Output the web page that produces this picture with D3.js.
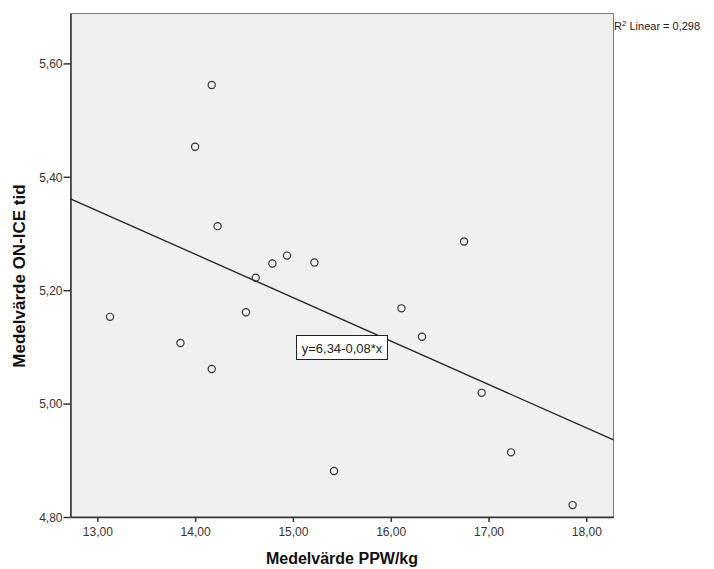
<!DOCTYPE html>
<html>
<head>
<meta charset="utf-8">
<script src="https://cdn.jsdelivr.net/npm/d3@7"></script>
<style>
  body { margin: 0; background: #fff; }
  text { font-family: "Liberation Sans", Arial, sans-serif; }
</style>
</head>
<body>
<div id="chart"></div>
<script>
// values
var ppw = [13.13, 13.85, 14.17, 14.23, 14.62, 14.52, 14.79, 14.94, 15.22,
           14.17, 14.00, 16.75, 16.11, 16.32, 16.93, 17.23, 17.86, 15.42];
var onIce = [5.153, 5.107, 5.061, 5.313, 5.222, 5.161, 5.247, 5.261, 5.249,
             5.562, 5.453, 5.286, 5.168, 5.118, 5.019, 4.914, 4.821, 4.881];
var xTicks = [13, 14, 15, 16, 17, 18];
var yTicks = [4.8, 5.0, 5.2, 5.4, 5.6];
var fitIntercept = 6.336, fitSlope = -0.0766;
var fitLabel = "y=6,34-0,08*x";
var r2Label = "0,298";

var W = 714, H = 569;
// plot edges (don't call it "top", that's window.top)
var padL = 70.5, padR = 613.5, padT = 13.5, padB = 517;

var fmt = function(v) { return d3.format(".2f")(v).replace(".", ","); };

var svg = d3.select("#chart").append("svg")
    .attr("width", W).attr("height", H);

var x = d3.scaleLinear().domain([12.726, 18.278]).range([padL, padR]);
var y = d3.scaleLinear().domain([4.80, 5.688]).range([padB, padT]);

// plot frame
svg.append("rect")
    .attr("x", padL).attr("y", padT)
    .attr("width", padR - padL).attr("height", padB - padT)
    .attr("fill", "#f0f0f0")
    .attr("stroke", "#7a7a7a").attr("stroke-width", 1);

// axes
var xAxis = d3.axisBottom(x).tickValues(xTicks).tickFormat(fmt).tickSize(5).tickSizeOuter(0);
var yAxis = d3.axisLeft(y).tickValues(yTicks).tickFormat(fmt).tickSize(7).tickSizeOuter(0);

var gx = svg.append("g").attr("transform", "translate(0," + padB + ")").call(xAxis);
var gy = svg.append("g").attr("transform", "translate(" + padL + ",0)").call(yAxis);

[gx, gy].forEach(function(g) {
    g.select(".domain").attr("stroke", "#333").attr("stroke-width", 1.5);
    g.selectAll(".tick line").attr("stroke", "#333").attr("stroke-width", 1.5);
    g.selectAll(".tick text").attr("fill", "#333").style("font-size", "12px")
        .style("font-family", "'Liberation Sans Narrow', 'Liberation Sans', Arial, sans-serif");
});
gx.selectAll(".tick text").attr("dy", "0.95em");
gy.selectAll(".tick text").attr("x", -8).attr("dy", "0.35em");

// regression line
var line = d3.line()
    .x(function(d) { return x(d); })
    .y(function(d) { return y(fitIntercept + fitSlope * d); });
svg.append("path")
    .datum(x.domain())
    .attr("d", line)
    .attr("fill", "none")
    .attr("stroke", "#222")
    .attr("stroke-width", 1.3);

// points
svg.append("g").selectAll("circle")
    .data(d3.zip(ppw, onIce))
    .enter()
    .append("circle")
    .attr("cx", function(d) { return x(d[0]); })
    .attr("cy", function(d) { return y(d[1]); })
    .attr("r", 3.6)
    .attr("fill", "none")
    .attr("stroke", "#333")
    .attr("stroke-width", 1.2);

// equation box
var eq = svg.append("g").attr("transform", "translate(296.5,335.5)");
eq.append("rect").attr("width", 91).attr("height", 24)
    .attr("fill", "#fff").attr("stroke", "#222").attr("stroke-width", 1);
eq.append("text").attr("x", 45.5).attr("y", 17)
    .attr("text-anchor", "middle")
    .style("font-size", "13px").attr("fill", "#222")
    .text(fitLabel);

// R2 label
var r2 = svg.append("text").attr("x", 614).attr("y", 30)
    .style("font-size", "11px").attr("fill", "#222");
r2.append("tspan").text("R");
r2.append("tspan").attr("dy", -4).style("font-size", "8px").text("2");
r2.append("tspan").attr("dy", 4).text(" Linear = " + r2Label);

// axis titles
svg.append("text")
    .attr("x", (padL + padR) / 2).attr("y", 564)
    .attr("text-anchor", "middle")
    .style("font-size", "16px").style("font-weight", "bold").attr("fill", "#111")
    .text("Medelvärde PPW/kg");

svg.append("text")
    .attr("transform", "translate(25,276) rotate(-90)")
    .attr("text-anchor", "middle")
    .style("font-size", "17px").style("font-weight", "bold").attr("fill", "#111")
    .text("Medelvärde ON-ICE tid");
</script>
</body>
</html>
